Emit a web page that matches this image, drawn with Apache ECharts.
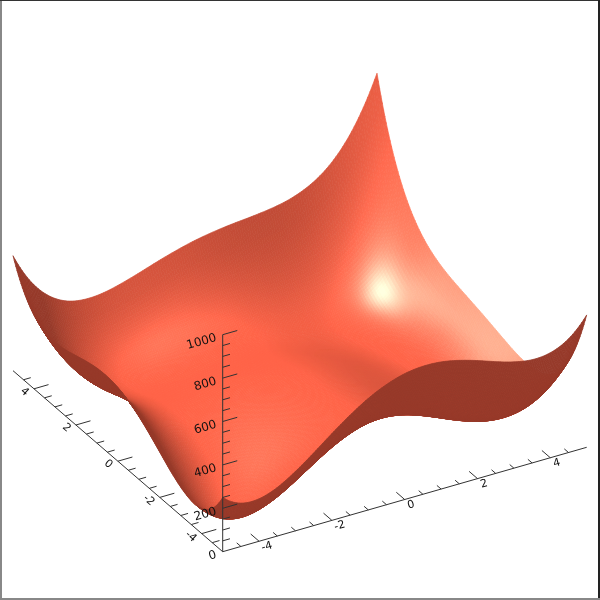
<!DOCTYPE html>
<html><head><meta charset="utf-8">
<style>html,body{margin:0;padding:0;background:#fff}#c{width:600px;height:600px}</style>
<script src="https://cdn.jsdelivr.net/npm/echarts@6/dist/echarts.min.js"></script>
</head><body><div id="c"></div>
<script>
// Height values read per row, y = -5 .. 5 in 0.5 steps; columns x = -5 .. 5 in 0.5 steps
const xValues = [-5,-4.5,-4,-3.5,-3,-2.5,-2,-1.5,-1,-0.5,0,0.5,1,1.5,2,2.5,3,3.5,4,4.5,5];
const yValues = [-5,-4.5,-4,-3.5,-3,-2.5,-2,-1.5,-1,-0.5,0,0.5,1,1.5,2,2.5,3,3.5,4,4.5,5];
const rowA = [250,200,196,224,274,335,400,461,514,554,580,590,586,569,544,515,490,476,484,524,610];
const rowB = [158,99,86,106,147,201,259,314,360,395,416,422,413,393,365,334,306,291,298,338,423];
const rowC = [116,48,26,38,72,119,170,219,260,290,306,308,296,273,242,209,180,164,170,210,296];
const rowD = [110,34,4,8,35,76,121,164,200,226,238,236,221,196,163,128,98,82,88,128,215];
const rowE = [130,45,8,5,26,60,100,138,170,191,200,195,178,150,116,80,50,33,40,81,170];
const rowF = [165,73,29,20,34,63,98,132,159,177,183,176,156,127,92,56,25,9,17,60,150];
const rowG = [208,109,58,43,52,76,106,136,160,175,178,169,148,118,82,46,16,1,10,55,148];
const rowH = [251,146,89,68,72,92,118,144,165,178,179,168,146,116,80,44,15,2,13,60,156];
const rowI = [290,178,116,90,90,105,128,151,170,180,180,168,146,115,80,45,18,6,20,70,170];
const rowJ = [320,203,136,106,101,113,133,154,170,179,178,166,143,113,79,46,20,11,28,82,185];
const rowK = [340,218,146,112,104,113,130,149,164,172,170,158,136,107,74,43,20,14,34,92,200];
const rowL = [348,222,146,108,97,104,119,136,150,158,156,144,123,96,65,36,16,14,38,100,213];
const rowM = [346,215,136,95,82,86,100,116,130,137,136,125,106,80,52,26,10,11,40,107,226];
const rowN = [335,201,119,76,60,63,76,92,105,113,113,104,86,63,38,16,3,9,43,116,240];
const rowO = [320,183,98,53,36,38,50,66,80,89,90,83,68,48,26,8,0,11,50,129,260];
const rowP = [305,166,79,32,14,16,28,44,59,70,73,68,56,40,22,8,5,22,67,152,290];
const rowQ = [298,156,68,20,2,3,16,33,50,62,68,66,58,45,32,23,26,48,100,192,338];
const rowR = [306,163,74,26,7,9,23,42,60,75,84,86,81,73,65,62,70,99,158,258,411];
const rowS = [340,196,106,58,40,43,58,79,100,118,130,136,136,133,130,133,148,184,250,358,520];
const rowT = [410,266,176,128,111,116,133,156,180,202,218,228,233,236,239,248,270,314,388,504,675];
const rowU = [530,385,296,249,234,240,260,286,314,339,360,375,386,394,404,420,450,501,584,710,890];
const heightRows = [rowA,rowB,rowC,rowD,rowE,rowF,rowG,rowH,rowI,rowJ,rowK,rowL,rowM,rowN,rowO,rowP,rowQ,rowR,rowS,rowT,rowU];

const xMinorTicks = [-4.5,-3.5,-3,-2.5,-1.5,-1,-0.5,0.5,1,1.5,2.5,3,3.5,4.5];
const xMajorTicks = [-4,-2,0,2,4];
const yMinorTicks = [-4.5,-3.5,-3,-2.5,-1.5,-1,-0.5,0.5,1,1.5,2.5,3,3.5,4.5];
const yMajorTicks = [-4,-2,0,2,4];
const zMinorTicks = [50,100,150,250,300,350,450,500,550,650,700,750,850,900,950];
const zMajorTicks = [0,200,400,600,800,1000];

// ---- view ----
const ORIGIN=[222.7,551.7], XS=[36.4,-10.44], YS=[-20.97,-18.1], ZS=0.217;
const proj=(x,y,z)=>[ORIGIN[0]+XS[0]*(x+5)+YS[0]*(y+5), ORIGIN[1]+XS[1]*(x+5)+YS[1]*(y+5)-ZS*z];
const U=[.867,-.499,0], V=[.2486,.431,.868], W=[-.433,-.753,.498];
const fromView=(a,b,c)=>[0,1,2].map(k=>a*U[k]+b*V[k]+c*W[k]);
const norm=v=>{const l=Math.hypot(...v);return v.map(t=>t/l);};
const dot=(a,b)=>a[0]*b[0]+a[1]*b[1]+a[2]*b[2];
const LIGHT=norm(fromView(-.589,.557,.602)), HALF=norm(fromView(-.329,.311,.895)), HALF2=norm(fromView(-.66,.27,.70));
const ZPHYS=0.000595;

// ---- display mesh: smooth curve through the read heights ----
const SUB=8;
function smooth(a){ // Hermite curve through a list, SUB points per interval
  const n=a.length, p=a.slice();
  p.unshift(4*p[0]-6*p[1]+4*p[2]-p[3]);p.unshift(4*p[0]-6*p[1]+4*p[2]-p[3]);
  p.push(4*p[p.length-1]-6*p[p.length-2]+4*p[p.length-3]-p[p.length-4]);
  p.push(4*p[p.length-1]-6*p[p.length-2]+4*p[p.length-3]-p[p.length-4]);
  const m=i=>(-p[i+4]+8*p[i+3]-8*p[i+1]+p[i])/12; // tangent at list index i
  const out=[];
  for(let i=0;i<n-1;i++)for(let s=0;s<SUB;s++){
    const t=s/SUB,t2=t*t,t3=t2*t;
    out.push((2*t3-3*t2+1)*p[i+2]+(t3-2*t2+t)*m(i)+(-2*t3+3*t2)*p[i+3]+(t3-t2)*m(i+1));
  }
  out.push(a[n-1]);return out;
}
const byX=heightRows.map(smooth), M=(xValues.length-1)*SUB;
const columns=[];
for(let i=0;i<=M;i++)columns.push(smooth(byX.map(r=>r[i])));
const cl=v=>Math.max(0,Math.min(M,v));
const H=(i,j)=>columns[cl(i)][cl(j)];
const cx=i=>xValues[0]+(xValues[xValues.length-1]-xValues[0])*i/M;
const cy=j=>yValues[0]+(yValues[yValues.length-1]-yValues[0])*j/M;

const BASE=[255,99,71], UNDER=[150,58,42], R=3;
const cells=[], cellColor={};
for(let i=0;i<M;i++)for(let j=0;j<M;j++){
  const hx=10/M;
  const i0=cl(i-R),i1=cl(i+1+R),j0=cl(j-R),j1=cl(j+1+R);
  const dzx=(H(i1,j)+H(i1,j+1)-H(i0,j)-H(i0,j+1))/2/((i1-i0)*hx)*10*ZPHYS;
  const dzy=(H(i,j1)+H(i+1,j1)-H(i,j0)-H(i+1,j0))/2/((j1-j0)*hx)*10*ZPHYS;
  const n=norm([-dzx,-dzy,1]);
  const zc=(H(i,j)+H(i+1,j)+H(i,j+1)+H(i+1,j+1))/4;
  const depth=W[0]*(cx(i)+.5/M*10)/10+W[1]*(cy(j)+.5/M*10)/10+W[2]*zc*ZPHYS;
  let col;
  if(dot(n,W)<0){col=UNDER;}
  else{
    const d=.59+.57*Math.max(0,dot(n,LIGHT));
    const nh=Math.max(0,dot(n,HALF)), nh2=Math.max(0,dot(n,HALF2));
    const sp=.45*Math.pow(nh,45)+.18*Math.pow(nh,12)+.2*Math.pow(nh2,60);
    col=[Math.min(255,BASE[0]*Math.min(1,d)+255*sp),Math.min(255,BASE[1]*Math.min(1,d)+255*sp),Math.min(255,BASE[2]*Math.min(1,d)+244*sp)].map(Math.round);
  }
  cellColor[i*100000+j]=`rgb(${col[0]},${col[1]},${col[2]})`;
  cells.push([i,j,depth]);
}
cells.sort((a,b)=>a[2]-b[2]);

// ---- axis parts ----
const AXIS='#333', FONT='"DejaVu Sans"';
const parts=[];
const seg=(a,b)=>parts.push({k:'l',a,b});
seg(proj(-5,-5,0),proj(5,-5,0));seg(proj(-5,-5,0),proj(-5,5,0));seg(proj(-5,-5,0),proj(-5,-5,1000));
xMinorTicks.forEach(v=>seg(proj(v,-5,0),proj(v,-4.8,0)));
xMajorTicks.forEach(v=>seg(proj(v,-5,0),proj(v,-4.6,0)));
yMinorTicks.forEach(v=>seg(proj(-5,v,0),proj(-4.8,v,0)));
yMajorTicks.forEach(v=>seg(proj(-5,v,0),proj(-4.6,v,0)));
zMinorTicks.forEach(v=>seg(proj(-5,-5,v),proj(-4.8,-5,v)));
zMajorTicks.filter(v=>v>0).forEach(v=>seg(proj(-5,-5,v),proj(-4.6,-5,v)));
const lab=(p,text,rot,align,size)=>parts.push({k:'t',p,text,rot,align,size});
xMajorTicks.forEach(v=>{const p=proj(v,-5,0);lab([p[0]+6.5+(v<0?1.3:0),p[1]+5.5],String(v),16,'center',11);});
yMajorTicks.forEach(v=>{const p=proj(-5,v,0);lab([p[0]-9.5-(v<0?1.5:0),p[1]+3],String(v),-41,'center',11);});
zMajorTicks.forEach(v=>{const p=proj(-5,-5,v);lab([p[0]-6.4,p[1]+3],String(v),16,'right',12);});

const chart=echarts.init(document.getElementById('c'),null,{renderer:'canvas'});
chart.setOption({
  animation:false,backgroundColor:'#fff',
  grid:{left:0,right:0,top:0,bottom:0},
  xAxis:{type:'value',min:0,max:600,show:false},
  yAxis:{type:'value',min:0,max:600,inverse:true,show:false},
  tooltip:{show:false},
  graphic:[
    {type:'rect',shape:{x:0,y:0,width:2,height:600},style:{fill:'#888'},z:10},
    {type:'rect',shape:{x:0,y:0,width:600,height:1},style:{fill:'#333'},z:10},
    {type:'rect',shape:{x:598,y:0,width:2,height:600},style:{fill:'#222'},z:10},
    {type:'rect',shape:{x:0,y:598,width:600,height:2},style:{fill:'#888'},z:10}
  ],
  series:[
    {type:'custom',coordinateSystem:'cartesian2d',silent:true,clip:false,progressive:0,z:1,
     data:cells,encode:{x:0,y:1},
     renderItem(params,api){
       const i=api.value(0),j=api.value(1);
       const pts=[[i,j],[i+1,j],[i+1,j+1],[i,j+1]].map(q=>{
         const s=proj(cx(q[0]),cy(q[1]),H(q[0],q[1]));return api.coord(s);});
       const c=cellColor[i*100000+j];
       return {type:'polygon',shape:{points:pts},style:{fill:c,stroke:c,lineWidth:.7}};
     }},
    {type:'custom',coordinateSystem:'cartesian2d',silent:true,clip:false,progressive:0,z:2,
     data:parts.map((p,i)=>[i,0]),encode:{x:0,y:1},
     renderItem(params,api){
       const p=parts[api.value(0)];
       if(p.k==='l'){
         const a=api.coord(p.a),b=api.coord(p.b);
         return {type:'line',shape:{x1:a[0],y1:a[1],x2:b[0],y2:b[1]},style:{stroke:AXIS,lineWidth:1}};
       }
       const a=api.coord(p.p);
       return {type:'text',x:a[0],y:a[1],rotation:p.rot*Math.PI/180,
         style:{text:p.text,font:p.size+'px '+FONT,fill:'#111',align:p.align,verticalAlign:'middle'}};
     }}
  ]
});
</script></body></html>
